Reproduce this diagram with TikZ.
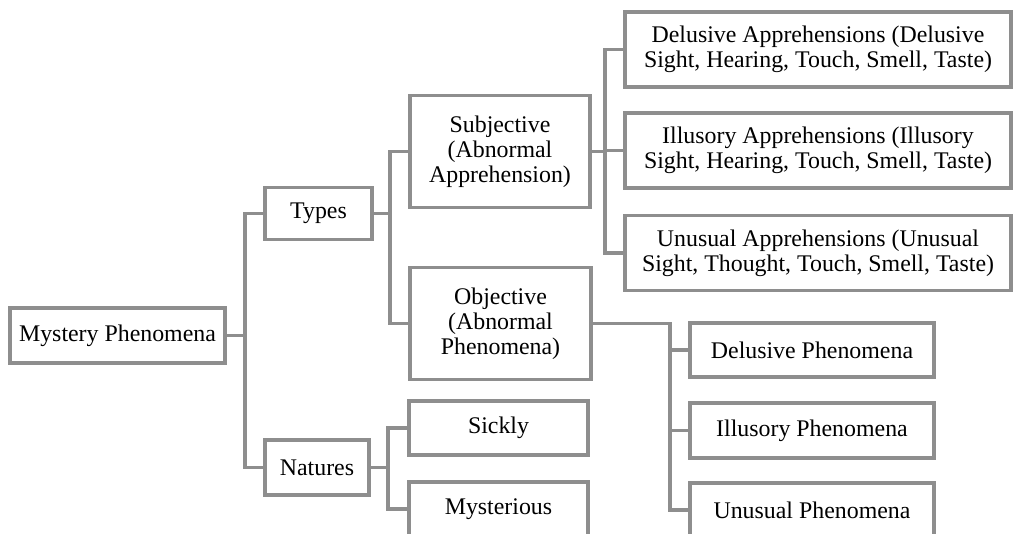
\documentclass[tikz,border=0pt]{standalone}
\usepackage{fontspec}
\setmainfont{Liberation Serif}
\definecolor{linegray}{RGB}{142,142,142}
\begin{document}
\begin{tikzpicture}[x=0.75pt,y=-0.75pt,
  box/.style={draw=linegray, line width=2.3pt, fill=white, align=center,
    inner sep=0pt, font=\fontsize{17.9}{18.9}\selectfont},
  wh/.style 2 args={minimum width={#1*0.75pt}, minimum height={#2*0.75pt}},
  link/.style={draw=linegray, line width=2.3pt}]
\useasboundingbox (0,0) rectangle (1014,533);
\clip (0,0) rectangle (1014,533);

% root and first level
\node[box, wh={215}{55}] (mp) at (117.5,335.5) {Mystery Phenomena};
\node[box, wh={107}{52}] (types) at (318.5,213.5) {Types};
\node[box, wh={104}{55}] (natures) at (317,467.5) {Natures};

% second level
\node[box, wh={180}{112}] (subj) at (500,151.5) {Subjective\\(Abnormal\\Apprehension)};
\node[box, wh={181}{112}] (obj) at (500.5,323.5) {Objective\\(Abnormal\\Phenomena)};
\node[box, wh={179}{54}] (sickly) at (498.5,428) {Sickly};
\node[box, wh={179}{54}] (myst) at (498.5,509) {Mysterious};

% apprehensions
\node[box, wh={386}{75}] (dapp) at (818,49.5) {Delusive Apprehensions (Delusive\\Sight, Hearing, Touch, Smell, Taste)};
\node[box, wh={386}{75}] (iapp) at (818,150.5) {Illusory Apprehensions (Illusory\\Sight, Hearing, Touch, Smell, Taste)};
\node[box, wh={386}{75}] (uapp) at (818,253) {Unusual Apprehensions (Unusual\\Sight, Thought, Touch, Smell, Taste)};

% phenomena
\node[box, wh={244}{54}] (dphen) at (812,350) {Delusive Phenomena};
\node[box, wh={244}{55}] (iphen) at (812,430.5) {Illusory Phenomena};
\node[box, wh={244}{54}] (uphen) at (812,510) {Unusual Phenomena};

% bus lines
\coordinate (b1) at (245,0);
\coordinate (b2) at (390,0);
\coordinate (b3) at (605,0);
\coordinate (b4) at (670,0);
\coordinate (b5) at (388,0);

\draw[link] (mp.east) -- (b1 |- mp.east);
\draw[link] (types.west) -- (b1 |- types.west) -- (b1 |- natures.west) -- (natures.west);

\draw[link] (types.east) -- (b2 |- types.east);
\draw[link] (subj.west) -- (b2 |- subj.west) -- (b2 |- obj.west) -- (obj.west);

\draw[link] (subj.east) -- (b3 |- subj.east);
\draw[link] (dapp.west) -- (b3 |- dapp.west) -- (b3 |- uapp.west) -- (uapp.west);
\draw[link] (b3 |- iapp.west) -- (iapp.west);

\draw[link] (obj.east) -- (b4 |- obj.east) -- (b4 |- uphen.west) -- (uphen.west);
\draw[link] (b4 |- dphen.west) -- (dphen.west);
\draw[link] (b4 |- iphen.west) -- (iphen.west);

\draw[link] (natures.east) -- (b5 |- natures.east);
\draw[link] (sickly.west) -- (b5 |- sickly.west) -- (b5 |- myst.west) -- (myst.west);
\end{tikzpicture}
\end{document}
